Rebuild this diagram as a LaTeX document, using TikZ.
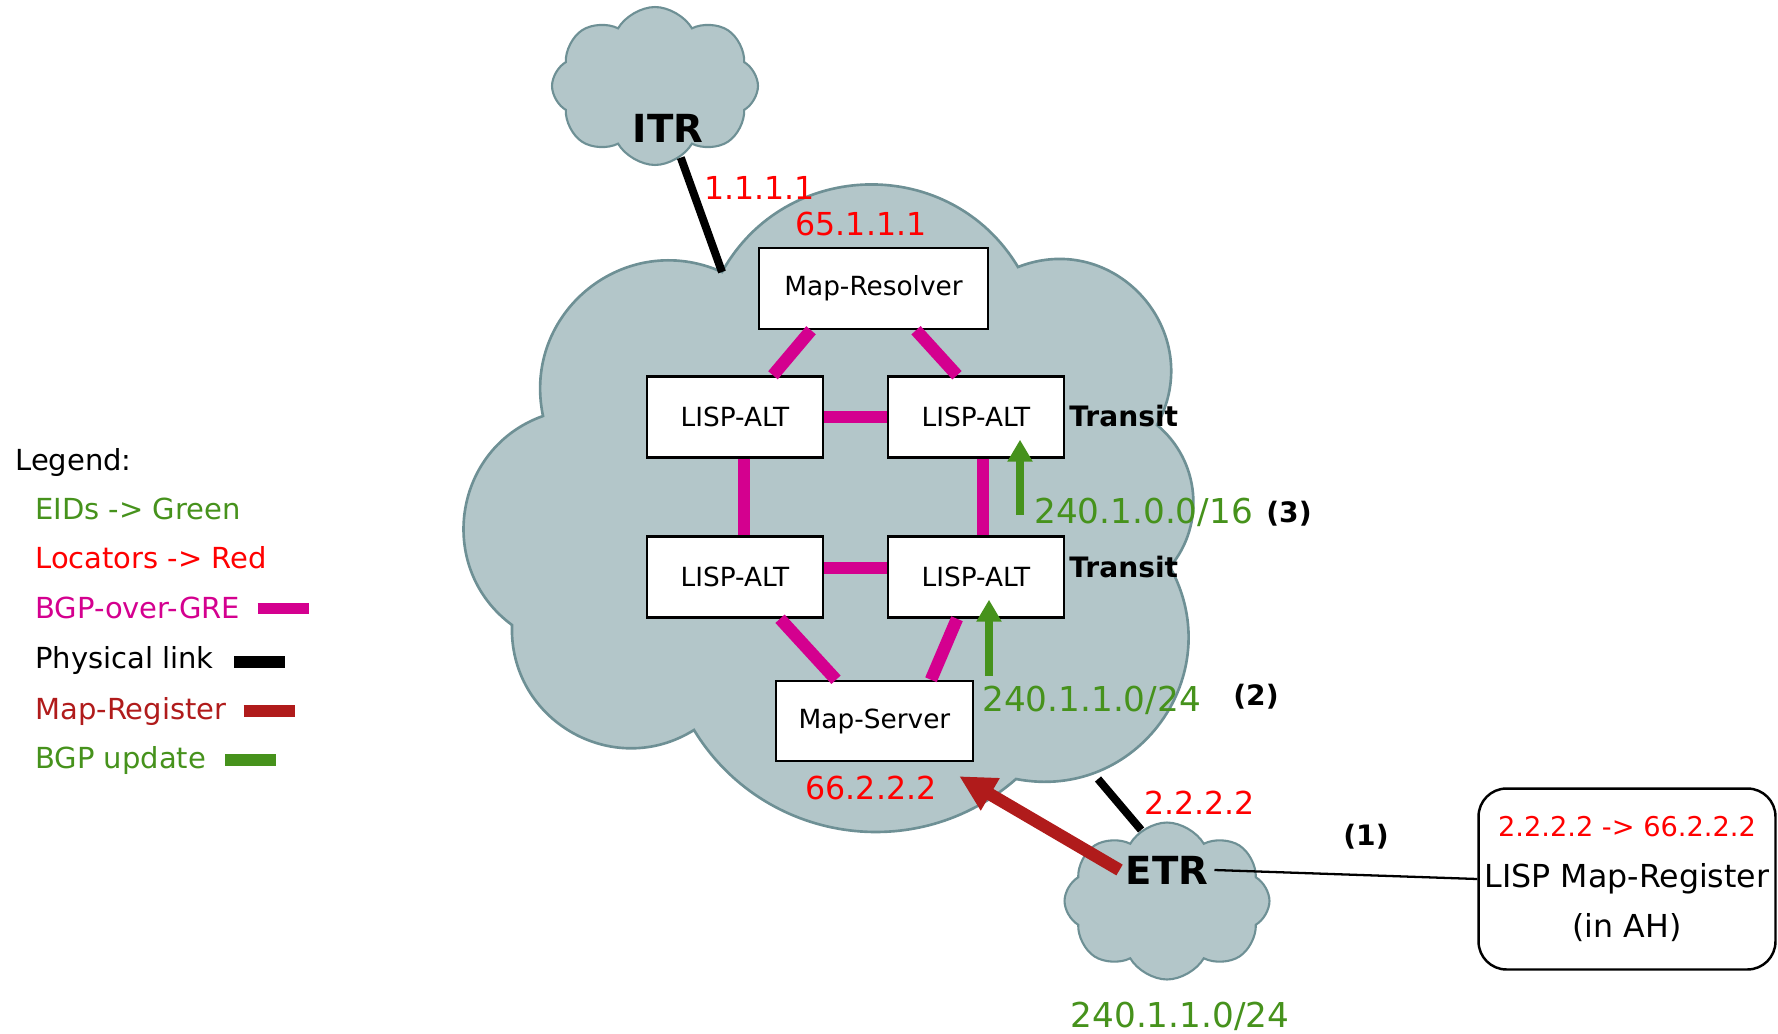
\documentclass[tikz,border=0pt]{standalone}
\usepackage{fontspec}
\setmainfont{DejaVu Sans}
\usetikzlibrary{shapes.symbols,arrows.meta,calc}

\definecolor{cloudFill}{HTML}{B3C6C9}
\definecolor{cloudLine}{HTML}{6E9095}
\definecolor{greMagenta}{HTML}{D4008F}
\definecolor{eidGreen}{HTML}{46921C}
\definecolor{locRed}{HTML}{FF0000}
\definecolor{regRed}{HTML}{B01B1B}

\tikzset{
  corecloud/.style={fill=cloudFill, draw=cloudLine, line width=1.5pt},
  edgecloud/.style={cloud, cloud puffs=8, cloud puff arc=120, cloud ignores aspect,
    fill=cloudFill, draw=cloudLine, line width=1.2pt, inner sep=0pt},
  altbox/.style={draw, fill=white, line width=1.4pt, minimum width=3.52cm,
    minimum height=1.62cm, inner sep=0pt, font=\fontsize{15pt}{18pt}\selectfont},
  gre/.style={greMagenta, line width=0.25cm},
  physlink/.style={black, line width=0.16cm},
  bgpupd/.style={eidGreen, line width=0.16cm, -{Triangle[length=0.44cm,width=0.48cm]}},
  mapreg/.style={regRed, line width=0.25cm, -{Triangle[length=0.72cm,width=0.7cm]}},
  locator/.style={text=locRed, font=\fontsize{18pt}{20pt}\selectfont},
  eid/.style={text=eidGreen, font=\fontsize{19.5pt}{22pt}\selectfont},
  rtrname/.style={font=\fontsize{22pt}{24pt}\bfseries},
  tag/.style={inner sep=0pt, font=\fontsize{16pt}{18pt}\bfseries},
  legtext/.style={anchor=base west, inner sep=0pt, font=\fontsize{16.5pt}{18pt}\selectfont},
  legbar/.style={line width=0.23cm},
}

\begin{document}
\begin{tikzpicture}[x=0.02cm,y=-0.02cm]
  \useasboundingbox (0,0) rectangle (1778,1034);

  % ------- the mapping system cloud -------
  \draw[corecloud] (722,272) coordinate (itrlink)
    to[bend left=60,looseness=1.13] (1018,267)
    to[bend left=70,looseness=1.27] (1157,425)
    to[bend left=45] (1170,567)
    to[bend left=65,looseness=1.2] (1016,779)
    to[bend left=50,looseness=1.04] (694,730)
    to[bend left=62,looseness=1.16] (512,625)
    to[bend left=62,looseness=1.16] (543,416)
    to[bend left=63,looseness=1.18] (itrlink) -- cycle;
  \coordinate (etrlink) at (1098,779);

  % site clouds
  \node[edgecloud, minimum width=4.12cm, minimum height=3.16cm] (itr) at (655,86) {};
  \node[edgecloud, minimum width=4.1cm, minimum height=3.14cm] (etr) at (1167,901) {};

  % ------- MR, ALT mesh, MS -------
  \node[altbox, minimum width=4.58cm] (mr) at (873.5,288.5) {Map-Resolver};
  \node[altbox] (tl) at (735,417) {LISP-ALT};
  \node[altbox] (tr) at (976,417) {LISP-ALT};
  \node[altbox] (bl) at (735,577) {LISP-ALT};
  \node[altbox] (br) at (976,577) {LISP-ALT};
  \node[altbox, minimum width=3.94cm, minimum height=1.6cm] (ms) at (874.5,721) {Map-Server};

  % BGP-over-GRE sessions
  \draw[gre] ([xshift=-1.25cm]mr.south) -- ([xshift=0.76cm]tl.north);
  \draw[gre] ([xshift=0.85cm]mr.south) -- ([xshift=-0.38cm]tr.north);
  \draw[gre] (tl) -- (tr);
  \draw[gre] ([yshift=0.18cm]bl.east) -- ([yshift=0.18cm]br.west);
  \draw[gre] ([xshift=0.18cm]tl.south) -- ([xshift=0.18cm]bl.north);
  \draw[gre] ([xshift=0.14cm]tr.south) -- ([xshift=0.14cm]br.north);
  \draw[gre] ([xshift=0.9cm]bl.south) -- ([xshift=-0.77cm]ms.north);
  \draw[gre] ([xshift=-0.38cm]br.south) -- ([xshift=1.13cm]ms.north);

  % physical links
  \draw[physlink] (itr) -- (itrlink);
  \draw[physlink] (etr.110) -- (etrlink);

  % ------- router names, addresses -------
  \node[rtrname] (itrtxt) at (668,128) {ITR};
  \node[rtrname] (etrtxt) at (1167,870) {ETR};
  \node[locator, anchor=west, inner sep=0pt] at (704,188) {1.1.1.1};
  \node[locator] at (861,224) {65.1.1.1};
  \node[locator] at (871,788) {66.2.2.2};
  \node[locator, anchor=west, inner sep=0pt] at (1144,803) {2.2.2.2};
  \node[tag, anchor=west] at (1069,416) {Transit};
  \node[tag, anchor=west] at (1069,567) {Transit};

  % BGP updates towards the transit ALT routers
  \coordinate (upd3) at (1020,515);
  \coordinate (upd2) at (989,676);
  \draw[bgpupd] (upd3) -- ($(tr.south -| upd3)+(0,-19)$);
  \draw[bgpupd] (upd2) -- ($(br.south -| upd2)+(0,-19)$);
  \node[eid, anchor=west, inner sep=0pt] at (1034,512) {240.1.0.0/16};
  \node[eid, anchor=west, inner sep=0pt] at (982,700) {240.1.1.0/24};
  \node[eid] at (1180,1016) {240.1.1.0/24};
  \node[tag] at (1289,514) {(3)};
  \node[tag] at (1256,697) {(2)};
  \node[tag] at (1366,837) {(1)};

  % Map-Register from the ETR
  \draw[mapreg] (etrtxt.west) -- ($(ms.south east)+(-15,14)$);
  \node[draw, rounded corners=0.56cm, line width=1.4pt, minimum width=5.94cm,
    minimum height=3.62cm, align=center, font=\fontsize{18pt}{29pt}\selectfont]
    (regbox) at (1627,879)
    {{\color{locRed}\fontsize{15.5pt}{29pt}\selectfont 2.2.2.2 -> 66.2.2.2}\\LISP Map-Register\\(in AH)};
  \draw[line width=1.3pt] (etrtxt.east) -- (regbox.west);

  % ------- legend -------
  \node[legtext] (leghead) at (15,470) {Legend:};
  \node[legtext, text=eidGreen] (legeid) at (35,519) {EIDs -> Green};
  \node[legtext, text=locRed] (legloc) at (35,568) {Locators -> Red};
  \node[legtext, text=greMagenta] (leggre) at (35,618) {BGP-over-GRE};
  \node[legtext] (legphys) at (35,668) {Physical link};
  \node[legtext, text=regRed] (legreg) at (35,719) {Map-Register};
  \node[legtext, text=eidGreen] (legupd) at (35,768) {BGP update};
  \draw[legbar, greMagenta] ([xshift=0.34cm,yshift=0.19cm]leggre.base east) -- ++(1.02cm,0);
  \draw[legbar, black] ([xshift=0.4cm,yshift=0.12cm]legphys.base east) -- ++(1.02cm,0);
  \draw[legbar, regRed] ([xshift=0.34cm,yshift=0.16cm]legreg.base east) -- ++(1.02cm,0);
  \draw[legbar, eidGreen] ([xshift=0.38cm,yshift=0.16cm]legupd.base east) -- ++(1.02cm,0);
\end{tikzpicture}
\end{document}
